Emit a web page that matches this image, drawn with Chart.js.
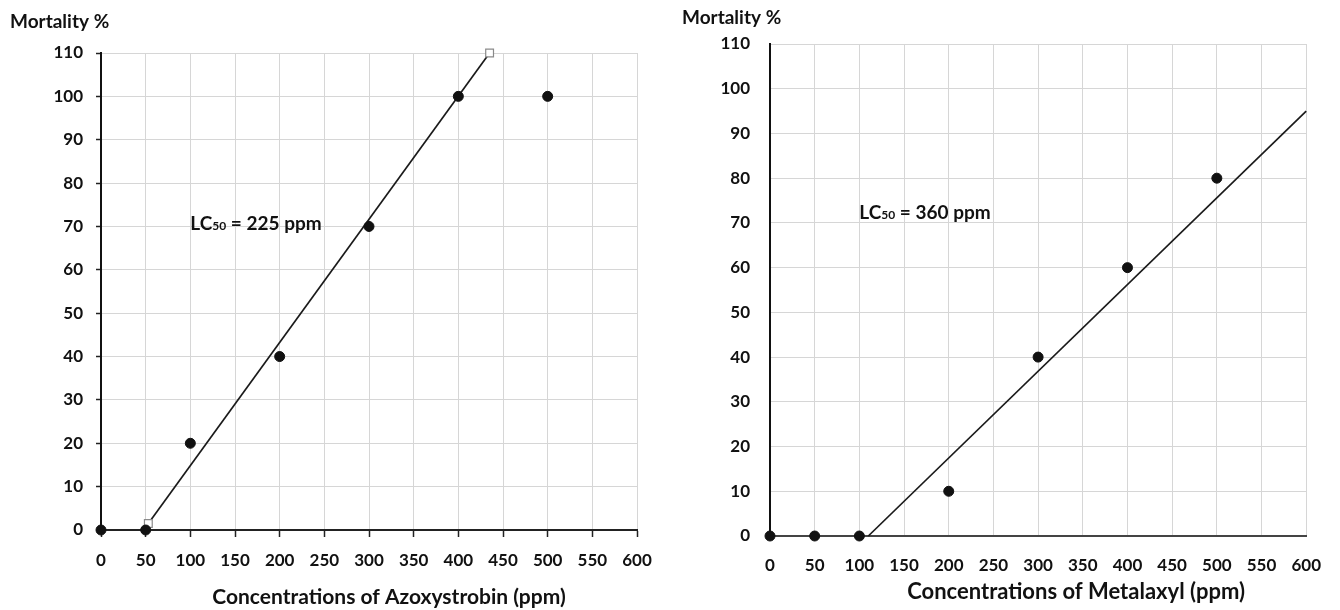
<!DOCTYPE html>
<html>
<head>
<meta charset="utf-8">
<script src="https://cdn.jsdelivr.net/npm/chart.js@4.4.1/dist/chart.umd.min.js"></script>
<style>
  html, body { margin: 0; padding: 0; background: #ffffff; }
  #wrap { position: relative; width: 1340px; height: 610px; overflow: hidden; }
  .box { position: absolute; top: 0; width: 670px; height: 610px; }
</style>
</head>
<body>
<div id="wrap">
  <div class="box" style="left:0px"><canvas id="c1" width="670" height="610"></canvas></div>
  <div class="box" style="left:670px"><canvas id="c2" width="670" height="610"></canvas></div>
</div>
<script>
// ---- data ----
const azoxConc = [0, 50, 100, 200, 300, 400, 500];
const azoxMortality = [0, 0, 20, 40, 70, 100, 100];
const azoxFitX = [53, 435];
const azoxFitY = [1.5, 110];

const metaConc = [0, 50, 100, 200, 300, 400, 500];
const metaMortality = [0, 0, 0, 10, 40, 60, 80];
const metaFitX = [110, 600];
const metaFitY = [0, 95];

const xTicks = [0, 50, 100, 150, 200, 250, 300, 350, 400, 450, 500, 550, 600];
const yTicks = [0, 10, 20, 30, 40, 50, 60, 70, 80, 90, 100, 110];

const yLabel = 'Mortality %';
const azoxTitle = 'Concentrations of Azoxystrobin (ppm)';
const metaTitle = 'Concentrations of Metalaxyl (ppm)';
const azoxLC = ['LC', '50', ' = 225 ppm'];
const metaLC = ['LC', '50', ' = 360 ppm'];
const azoxLCPos = [100, 70.8];
const metaLCPos = [100, 72.3];

const FONT = 'Lato, "Open Sans", sans-serif';

function pts(xs, ys) { return xs.map((x, i) => ({ x: x, y: ys[i] })); }

const textPlugin = {
  id: 'texts',
  afterDraw(chart, args, opts) {
    const ctx = chart.ctx;
    const area = chart.chartArea;
    ctx.save();
    ctx.fillStyle = '#111';
    // y-axis label above the axis
    ctx.textBaseline = 'middle';
    ctx.textAlign = 'left';
    ctx.font = 'bold 19px ' + FONT;
    ctx.fillText(yLabel, opts.ylx, opts.yly);
    // x-axis title
    ctx.textAlign = 'center';
    ctx.font = 'bold ' + opts.titleSize + 'px ' + FONT;
    ctx.fillText(opts.title, (area.left + area.right) / 2 + opts.titleDx, opts.titleY);
    // LC50 annotation anchored at data coordinates
    const px = chart.scales.x.getPixelForValue(opts.lcPos[0]);
    const py = chart.scales.y.getPixelForValue(opts.lcPos[1]);
    ctx.textAlign = 'left';
    ctx.textBaseline = 'alphabetic';
    const big = 19, small = 12;
    const base = py + big * 0.36;
    let x = px;
    ctx.font = 'bold ' + big + 'px ' + FONT;
    ctx.fillText(opts.lc[0], x, base);
    x += ctx.measureText(opts.lc[0]).width;
    ctx.font = 'bold ' + small + 'px ' + FONT;
    ctx.fillText(opts.lc[1], x, base);
    x += ctx.measureText(opts.lc[1]).width;
    ctx.font = 'bold ' + big + 'px ' + FONT;
    ctx.fillText(opts.lc[2], x, base);
    ctx.restore();
  }
};

function makeChart(id, cfg) {
  const tickFont = { family: FONT, size: 17, weight: 'bold' };
  return new Chart(document.getElementById(id), {
    type: 'scatter',
    data: {
      datasets: [
        {
          data: pts(cfg.conc, cfg.mort),
          pointRadius: 5,
          pointHoverRadius: 5,
          backgroundColor: '#111',
          borderColor: '#111',
          showLine: false,
          clip: false,
          order: 1
        },
        {
          data: pts(cfg.fitX, cfg.fitY),
          showLine: true,
          borderColor: '#1a1a1a',
          borderWidth: 1.7,
          pointStyle: 'rect',
          pointRadius: cfg.fitMarkers ? 5.5 : 0,
          pointBackgroundColor: '#ffffff',
          pointBorderColor: '#8a8a8a',
          pointBorderWidth: 1.2,
          clip: false,
          order: 2
        }
      ]
    },
    options: {
      responsive: false,
      animation: false,
      layout: { padding: cfg.padding },
      plugins: {
        legend: { display: false },
        tooltip: { enabled: false },
        texts: {
          ylx: cfg.ylx, yly: cfg.yly, lc: cfg.lc, lcPos: cfg.lcPos,
          title: cfg.title, titleSize: cfg.titleSize, titleDx: cfg.titleDx, titleY: cfg.titleY
        }
      },
      scales: {
        x: {
          type: 'linear',
          min: 0, max: 600,
          afterBuildTicks: s => { s.ticks = xTicks.map(v => ({ value: v })); },
          afterFit: s => { s.height = cfg.xh; },
          grid: {
            color: '#d6d6d6',
            lineWidth: 1,
            drawTicks: cfg.xTickMarks,
            tickLength: 7,
            tickColor: '#222',
            tickWidth: 1.5
          },
          border: { color: cfg.xBorder, width: 2 },
          ticks: { font: tickFont, color: '#111', padding: cfg.xPad, maxRotation: 0, autoSkip: false },
          title: { display: false }
        },
        y: {
          min: 0, max: 110,
          afterBuildTicks: s => { s.ticks = yTicks.map(v => ({ value: v })); },
          afterFit: s => { s.width = cfg.yw; },
          grid: {
            color: '#d6d6d6',
            lineWidth: 1,
            drawTicks: cfg.yTickMarks,
            tickLength: 5,
            tickColor: '#222',
            tickWidth: 1.5
          },
          border: { color: '#111', width: 2 },
          ticks: { font: tickFont, color: '#111', padding: cfg.yPad, autoSkip: false }
        }
      }
    },
    plugins: [textPlugin]
  });
}

makeChart('c1', {
  conc: azoxConc, mort: azoxMortality, fitX: azoxFitX, fitY: azoxFitY, fitMarkers: true,
  padding: { top: 53, right: 33, left: 0, bottom: 0 },
  yw: 101, xh: 80, xPad: 13, yPad: 13,
  xTickMarks: true, yTickMarks: true, xBorder: '#222',
  title: azoxTitle, titleSize: 21, titleDx: 20, titleY: 597,
  ylx: 10, yly: 22, lc: azoxLC, lcPos: azoxLCPos
});

makeChart('c2', {
  conc: metaConc, mort: metaMortality, fitX: metaFitX, fitY: metaFitY, fitMarkers: false,
  padding: { top: 44, right: 29, left: 0, bottom: 0 },
  yw: 100, xh: 74, xPad: 19, yPad: 20,
  xTickMarks: false, yTickMarks: false, xBorder: '#444',
  title: metaTitle, titleSize: 22, titleDx: 38, titleY: 592,
  ylx: 12, yly: 18, lc: metaLC, lcPos: metaLCPos
});
</script>
</body>
</html>
